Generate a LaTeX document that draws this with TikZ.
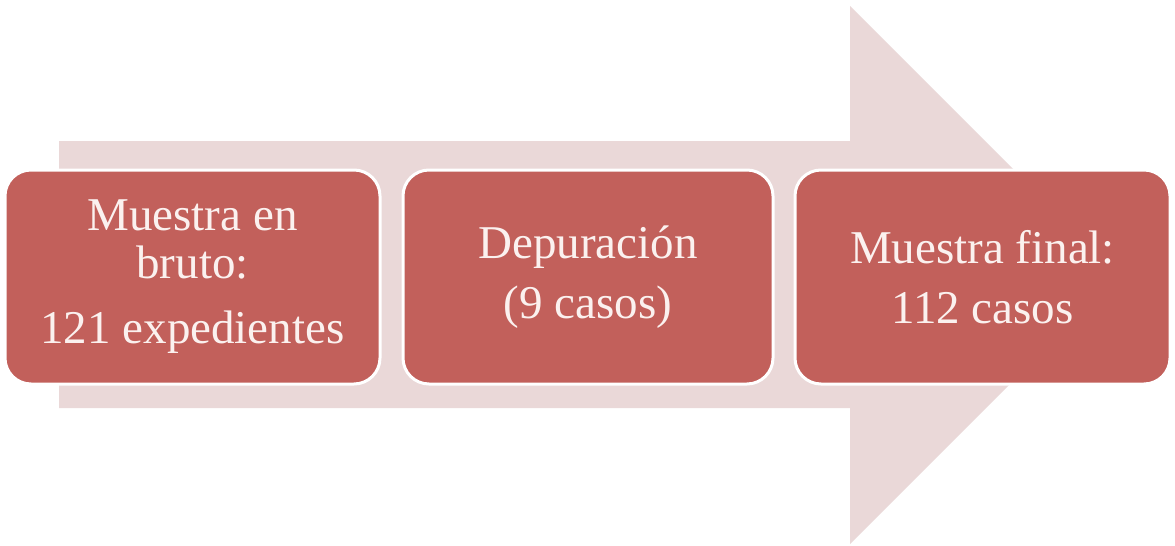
\documentclass[tikz,border=0pt]{standalone}
\usepackage{fontspec}
\setmainfont{Liberation Serif}
\definecolor{arrowfill}{HTML}{EAD8D8}
\definecolor{boxfill}{HTML}{C2605B}
\definecolor{boxtext}{HTML}{FBF1EF}
\tikzset{
  stagebox/.style={draw=white, line width=3pt, fill=boxfill, rounded corners=26pt,
    minimum height=214pt, inner sep=0pt, align=center, text=boxtext,
    font=\fontsize{47}{48}\selectfont},
  bigarrow/.style={fill=arrowfill, draw=none}
}
\begin{document}
\begin{tikzpicture}[x=1pt,y=-1pt]
\useasboundingbox[fill=white] (0,0) rectangle (1175,546);
\fill[bigarrow] (59,141) -- (850,141) -- (850,6) -- (1119,275) -- (850,544) -- (850,408) -- (59,408) -- cycle;
\node[stagebox, minimum width=375pt] (b1) at (192.5,277) {Muestra en\\bruto:\\[17pt]121 expedientes};
\node[stagebox, minimum width=370pt] (b2) at (588,277) {Depuración\\[12pt](9 casos)};
\node[stagebox, minimum width=375pt] (b3) at (982.5,277) {Muestra final:\\[12pt]112 casos};
\end{tikzpicture}
\end{document}
